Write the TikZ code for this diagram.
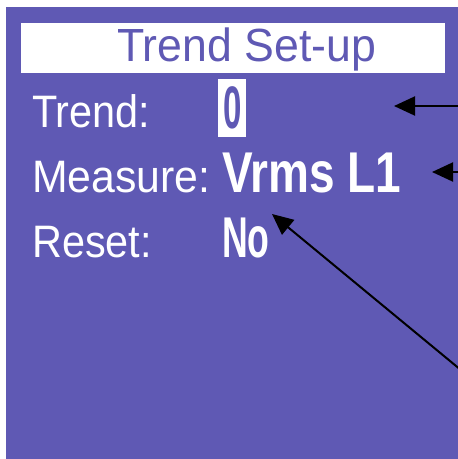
\documentclass[tikz,border=0pt]{standalone}
\usepackage{fontspec}
\setmainfont{Liberation Sans}
\usetikzlibrary{arrows.meta}
\definecolor{lcdblue}{RGB}{95,89,180}
\tikzset{
  lbl/.style={text=white, anchor=base west, inner sep=0pt, font=\fontsize{45.5}{48}\selectfont},
  val/.style={text=white, anchor=base west, inner sep=0pt, font=\fontsize{57.5}{60}\selectfont\bfseries},
  pointer/.style={line width=2pt, -{Triangle[length=21pt,width=19pt]}}
}
\begin{document}
\begin{tikzpicture}[x=1pt,y=-1pt]
\useasboundingbox (0,0) rectangle (458,459);
\clip (0,0) rectangle (458,459);
\fill[white] (0,0) rectangle (458,459);
\fill[lcdblue] (6,7) rectangle (458,459);
% title bar
\node[fill=white, anchor=north west, minimum width=424pt, minimum height=50pt, inner sep=0pt] (bar) at (21,23) {};
\node[anchor=base west, inner sep=0pt, text=lcdblue, font=\fontsize{46.5}{48}\selectfont] (title) at (117,61) {\scalebox{0.96}[1]{Trend Set-up}};
% labels
\node[lbl] (ltrend) at (32,127) {\scalebox{0.91}[1]{Trend:}};
\node[lbl] (lmeas) at (32,192) {\scalebox{0.94}[1]{Measure:}};
\node[lbl] (lreset) at (32,257) {\scalebox{0.91}[1]{Reset:}};
% values
\node[fill=white, anchor=north west, minimum width=28pt, minimum height=58pt, inner sep=0pt] (cur) at (218,79) {};
\node[text=lcdblue, inner sep=0pt, font=\fontsize{60}{62}\selectfont\bfseries] (vtrend) at (cur.center) {\scalebox{0.55}[1]{0}};
\node[val] (vmeas) at (222,192) {\scalebox{0.8}[1]{Vrms L1}};
\node[val] (vreset) at (222,257) {\scalebox{0.62}[1]{No}};
% pointers
\coordinate (s1) at (460,106);
\coordinate (t1) at (394,106);
\coordinate (s2) at (460,172);
\coordinate (t2) at (432,172);
\coordinate (s3) at (490,394);
\coordinate (t3) at (272,214);
\draw[pointer] (s1) -- (t1);
\draw[pointer] (s2) -- (t2);
\draw[pointer] (s3) -- (t3);
\end{tikzpicture}
\end{document}
